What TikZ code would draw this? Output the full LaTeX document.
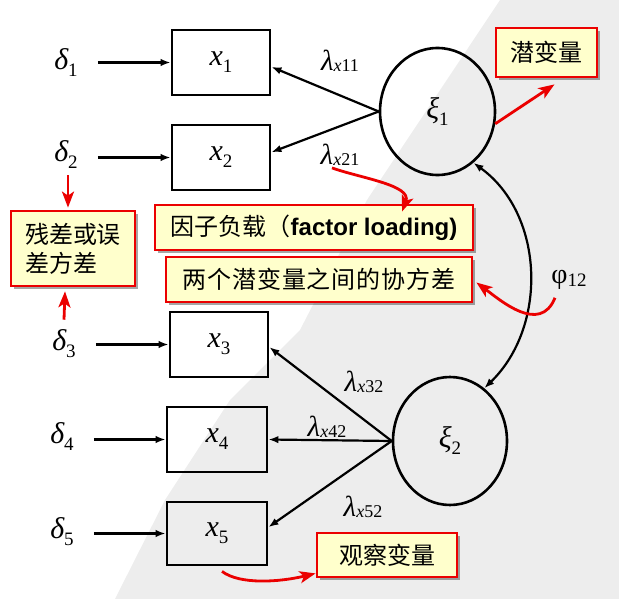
\RequirePackage{fix-cm}
\documentclass[tikz,border=0pt]{standalone}
\usepackage{fontspec}
\newfontfamily\cjk{Noto Sans CJK SC}
\newfontfamily\arialb{Liberation Sans}
\newfontfamily\tms{Liberation Serif}
\usetikzlibrary{shapes.geometric,arrows.meta,shadows,calc}
\definecolor{wm}{RGB}{237,237,237}
\definecolor{noteyellow}{RGB}{255,255,204}
\definecolor{notered}{RGB}{235,0,0}
% variable with lowered subscript
\newcommand\obsvar[2]{{\tms\itshape\fontsize{30}{32}\selectfont #1}\raisebox{-7pt}{\tms\fontsize{19}{20}\selectfont #2}}
% loading label
\newcommand\lamlab[1]{{\tms\itshape\fontsize{29}{31}\selectfont λ}\raisebox{-1pt}{\tms\fontsize{18}{20}\selectfont\itshape x\upshape #1}}
\begin{document}
\begin{tikzpicture}[x=1pt,y=1pt,
  obsbox/.style={draw=black, line width=2.8pt, rectangle, minimum width=98pt, minimum height=65pt, inner sep=0pt},
  latent/.style={draw=black, line width=2.6pt, ellipse, minimum width=115pt, minimum height=127pt, inner sep=0pt},
  errlab/.style={inner sep=0pt},
  loadlab/.style={inner sep=0pt},
  note/.style={draw=notered, line width=2.8pt, fill=noteyellow, rectangle, inner sep=0pt,
    font=\cjk\fontsize{24}{29}\selectfont,
    drop shadow={shadow xshift=3pt, shadow yshift=-3pt, fill=black, opacity=0.35}},
  blk/.style={line width=2.2pt, -{Latex[length=10pt,width=7.5pt]}},
  blkboth/.style={line width=2.2pt, {Latex[length=10pt,width=7.5pt]}-{Latex[length=10pt,width=7.5pt]}},
  redarrow/.style={draw=notered, line width=2.8pt, -{Stealth[length=16pt,width=12pt,inset=4pt]}},
]
\useasboundingbox (0,0) rectangle (619,-599);
\fill[wm] (500,0) -- (619,0) -- (619,-599) -- (115,-599) -- (165,-500) -- (230,-400) -- (300,-330) -- (367,-200) -- cycle;

% observed variables
\node[obsbox] (x1) at (221,-62.5) {\obsvar{x}{1}};
\node[obsbox] (x2) at (221,-157.5) {\obsvar{x}{2}};
\node[obsbox] (x3) at (219,-344.5) {\obsvar{x}{3}};
\node[obsbox, minimum width=100pt] (x4) at (217,-439.5) {\obsvar{x}{4}};
\node[obsbox, minimum width=100pt, minimum height=63pt] (x5) at (217,-533.5) {\obsvar{x}{5}};

% latent variables
\node[latent] (xi1) at (437.5,-111.5) {\obsvar{ξ}{1}};
\node[latent, minimum width=114pt, minimum height=128pt] (xi2) at (450,-441) {\obsvar{ξ}{2}};

% errors
\node[errlab] (d1) at (66,-63) {\obsvar{δ}{1}};
\node[errlab] (d2) at (66,-155) {\obsvar{δ}{2}};
\node[errlab] (d3) at (64,-344) {\obsvar{δ}{3}};
\node[errlab] (d4) at (62,-437) {\obsvar{δ}{4}};
\node[errlab] (d5) at (62,-532) {\obsvar{δ}{5}};

\foreach \d/\x in {d1/x1,d2/x2,d3/x3,d4/x4,d5/x5}
  \draw[blk, shorten <=20pt] (\d.east |- \x.west) -- (\x.west);

% loadings
\draw[blk] (xi1.west) -- (x1.-5);
\draw[blk] (xi1.west) -- (x2.6);
\draw[blk] (xi2.west) -- (x3.-3);
\draw[blk] (xi2.west) -- (x4.east);
\draw[blk] (xi2.west) -- (x5.7);

\node[loadlab] (l11) at (340,-61) {\lamlab{11}};
\node[loadlab] (l21) at (340,-155) {\lamlab{21}};
\node[loadlab] (l32) at (364,-382) {\lamlab{32}};
\node[loadlab] (l42) at (327,-427) {\lamlab{42}};
\node[loadlab] (l52) at (363,-507) {\lamlab{52}};

% covariance
\draw[blkboth] (xi1.-55) to[out=-36,in=44] (xi2.57);
\node[errlab] (phi) at (569,-280) {{\tms\fontsize{28}{30}\selectfont φ}\raisebox{-3pt}{\tms\fontsize{19}{20}\selectfont 12}};

% callout notes
\node[note, minimum width=101pt, minimum height=49pt] (lat) at (546.5,-52.5) {潜变量};
\node[note, minimum width=318pt, minimum height=45pt] (fl) at (314,-227.5) {因子负载（{\arialb\bfseries factor loading)}};
\node[note, minimum width=306pt, minimum height=45pt] (cov) at (319,-279.5) {\addfontfeature{LetterSpace=4}两个潜变量之间的协方差};
\node[note, minimum width=124pt, minimum height=75pt, align=left] (res) at (73,-248.5) {残差或误\\差方差};
\node[note, minimum width=140pt, minimum height=44pt] (obs) at (387,-555) {观察变量};

% red arrows
\draw[redarrow] (xi1.-12) -- ($(lat.south)+(8,-6)$);
\draw[redarrow] ($(l21.south)+(-8,-2)$) .. controls (360,-178) and (412,-185) .. ($(fl.north)+(88,-8)$);
\draw[redarrow] ($(phi.south)+(-14,-8)$) .. controls (540,-335) and (500,-300) .. ($(cov.east)+(3,-3)$);
\draw[redarrow] ($(x5.south)+(5,-5)$) .. controls (240,-585) and (280,-582) .. ($(obs.south west)+(0,5)$);
\draw[redarrow] ($(d2.south)+(2,-6)$) -- ($(res.north)+(-5,2)$);
\draw[redarrow] ($(d3.north)+(0,10)$) -- ($(res.south)+(-8,-4)$);
\end{tikzpicture}
\end{document}
